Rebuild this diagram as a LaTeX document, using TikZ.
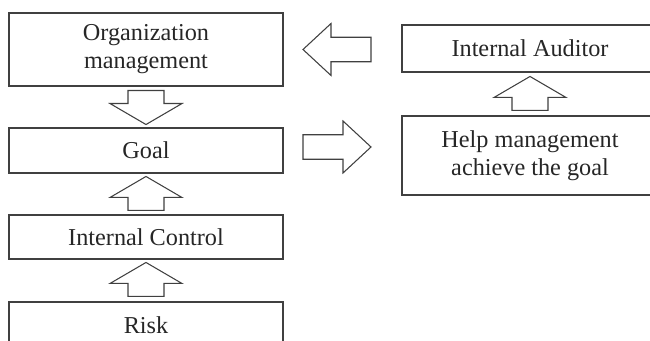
\documentclass[tikz,border=0pt]{standalone}
\usepackage{fontspec}
\setmainfont{Liberation Serif}
\usetikzlibrary{positioning}

\tikzset{
  upblock/.pic={\draw [line width=0.6pt, draw=black!75, fill=white] (-0.36,0) -- (-0.36,0.26) -- (-0.72,0.26) -- (0,0.68) -- (0.72,0.26) -- (0.36,0.26) -- (0.36,0) -- cycle ;},
  sideblock/.pic={\draw [line width=0.6pt, draw=black!75, fill=white] (0,-0.245) -- (0.8,-0.245) -- (0.8,-0.52) -- (1.36,0) -- (0.8,0.52) -- (0.8,0.245) -- (0,0.245) -- cycle ;}
}

\begin{document}
\begin{tikzpicture}[
  box/.style={draw=black!75, line width=0.6pt, align=center, text=black!85,
    font=\fontsize{13.8}{16}\selectfont, inner sep=0pt}
]
\clip (0,0) rectangle (13,6.82) ;

\node [box, minimum width=5.48cm, minimum height=1.46cm] (org) at (2.92,5.83) {Organization\\management} ;
\node [box, minimum width=5.48cm, minimum height=0.9cm] (goal) at (2.92,3.81) {Goal} ;
\node [box, minimum width=5.48cm, minimum height=0.88cm] (ctrl) at (2.92,2.08) {Internal Control} ;
\node [box, minimum width=5.48cm, minimum height=0.92cm] (risk) at (2.92,0.32) {Risk} ;
\node [box, minimum width=5.12cm, minimum height=0.94cm] (auditor) at (10.6,5.85) {Internal Auditor} ;
\node [box, minimum width=5.12cm, minimum height=1.58cm] (help) at (10.6,3.71) {Help management\\achieve the goal} ;

\pic [rotate=180] at ([yshift=-0.08cm]org.south) {upblock} ;
\pic at ([yshift=0.08cm]ctrl.north) {upblock} ;
\pic at ([yshift=0.1cm]risk.north) {upblock} ;
\pic at ([yshift=0.1cm]help.north) {upblock} ;
\pic [rotate=180] at (7.42,5.83) {sideblock} ;
\pic at (6.06,3.88) {sideblock} ;
\end{tikzpicture}
\end{document}
